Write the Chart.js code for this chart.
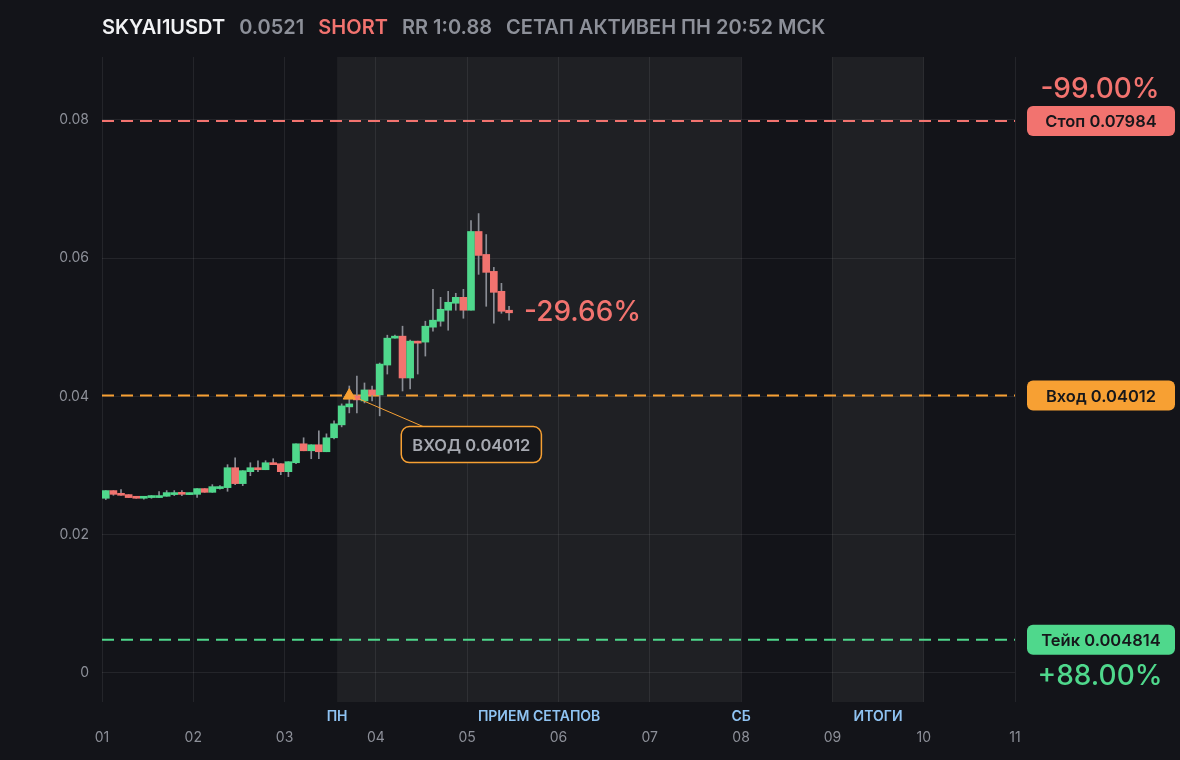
<!DOCTYPE html>
<html>
<head>
<meta charset="utf-8">
<script src="https://cdn.jsdelivr.net/npm/chart.js@4.4.1/dist/chart.umd.min.js"></script>
<style>
  html, body { margin: 0; padding: 0; background: #131419; }
  #wrap { position: relative; width: 1180px; height: 760px; overflow: hidden; }
  #title { position: absolute; left: 102px; top: 15px; font-family: Inter, "Noto Sans", sans-serif; font-size: 20px; font-weight: 600; white-space: nowrap; letter-spacing: 0px; }
  #title span { margin-right: 9px; }
  canvas { position: absolute; left: 0; top: 0; }
</style>
</head>
<body>
<div id="wrap">
  <canvas id="c" width="1180" height="760"></canvas>
  <div id="title"><span style="color:#f1f2f4">SKYAI1USDT</span> <span style="color:#8d9099">0.0521</span> <span style="color:#f2736f">SHORT</span> <span style="color:#8d9099">RR 1:0.88</span> <span style="color:#8d9099">СЕТАП АКТИВЕН ПН 20:52 МСК</span></div>
</div>
<script>
// ---------- data ----------
const startDay = 1;            // first tick "01"
const candlesPerDay = 12;      // 2h candles
const opens  = [0.02527,0.02638,0.02595,0.02580,0.02551,0.02527,0.02537,0.02537,0.02556,0.02580,0.02609,0.02580,
                0.02584,0.02667,0.02613,0.02667,0.02681,0.02969,0.02739,0.02912,0.02969,0.02940,0.03041,0.03027,
                0.02912,0.03041,0.03315,0.03214,0.03301,0.03200,0.03402,0.03589,0.03849,0.04007,0.03935,0.04094,
                0.04022,0.04454,0.04843,0.04872,0.04267,0.04800,0.04786,0.05002,0.05088,0.05247,0.05348,0.05434,
                0.05247,0.06386,0.06054,0.05809,0.05521,0.05247];
const highs  = [0.02638,0.02638,0.02652,0.02580,0.02551,0.02551,0.02566,0.02623,0.02638,0.02638,0.02638,0.02605,
                0.02667,0.02667,0.02724,0.02710,0.03013,0.03113,0.02926,0.03041,0.03070,0.03070,0.03099,0.03027,
                0.03056,0.03315,0.03402,0.03301,0.03503,0.03459,0.03647,0.03892,0.04151,0.04295,0.04195,0.04151,
                0.04483,0.04886,0.04886,0.05016,0.04814,0.04800,0.05088,0.05549,0.05434,0.05520,0.05492,0.05549,
                0.06544,0.06645,0.06342,0.05867,0.05636,0.05304];
const lows   = [0.02508,0.02570,0.02570,0.02537,0.02527,0.02513,0.02527,0.02537,0.02556,0.02566,0.02566,0.02580,
                0.02541,0.02613,0.02613,0.02657,0.02628,0.02724,0.02710,0.02854,0.02912,0.02940,0.03013,0.02868,
                0.02840,0.03027,0.03214,0.03099,0.03099,0.03200,0.03387,0.03560,0.03762,0.03762,0.03906,0.03935,
                0.03719,0.04324,0.04843,0.04079,0.04108,0.04324,0.04584,0.04944,0.05016,0.04958,0.05247,0.05131,
                0.05247,0.05766,0.05304,0.05059,0.05203,0.05102];
const closes = [0.02638,0.02584,0.02570,0.02537,0.02527,0.02551,0.02566,0.02566,0.02609,0.02609,0.02584,0.02605,
                0.02667,0.02613,0.02695,0.02695,0.02969,0.02739,0.02926,0.02969,0.02940,0.03041,0.03013,0.02912,
                0.03056,0.03315,0.03214,0.03301,0.03200,0.03402,0.03604,0.03863,0.03892,0.03950,0.04094,0.04022,
                0.04468,0.04843,0.04872,0.04267,0.04800,0.04771,0.05016,0.05103,0.05261,0.05362,0.05434,0.05247,
                0.06386,0.06040,0.05795,0.05506,0.05232,0.05210];

const stopPrice = 0.07984, entryPrice = 0.04012, takePrice = 0.004814;
const entryCandle = 33;              // candle (1-based) where the setup was entered
const stopPct = "-99.00%", takePct = "+88.00%", currentPct = "-29.66%";
const stopLabel = "Стоп 0.07984", entryLabel = "Вход 0.04012", takeLabel = "Тейк 0.004814";
const entryCallout = "ВХОД 0.04012";

const xTickLabels = ["01","02","03","04","05","06","07","08","09","10","11"];
const yTickValues = [0, 0.02, 0.04, 0.06, 0.08];
const yTickLabels = ["0","0.02","0.04","0.06","0.08"];
const sessionZones = [[3.575, 8.0], [9.0, 10.0]];     // shaded periods (day units)
const sessionLabels = [["ПН", 3.575], ["ПРИЕМ СЕТАПОВ", 5.7875], ["СБ", 8.0], ["ИТОГИ", 9.5]];

// ---------- colours ----------
const GREEN = '#4fd88c', RED = '#f2736f', ORANGE = '#f7a033', WICK = '#8a8d95';
const GRID = 'rgba(255,255,255,0.075)';
const FONT = 'Inter, "Noto Sans", sans-serif';

const candleX = i => startDay + (i + 0.5) / candlesPerDay;
const bodies = opens.map((o, i) => ({ x: candleX(i), y: [Math.min(o, closes[i]), Math.max(o, closes[i])] }));
const wicks  = opens.map((o, i) => ({ x: candleX(i), y: [lows[i], highs[i]] }));
const bodyColors = opens.map((o, i) => closes[i] >= o ? GREEN : RED);
const xMin = 1, xMax = 11;

const bgPlugin = {
  id: 'bg',
  beforeDraw(chart) {
    const { ctx, chartArea: a, scales: { x } } = chart;
    ctx.save();
    ctx.fillStyle = '#131419';
    ctx.fillRect(0, 0, chart.width, chart.height);
    ctx.fillStyle = '#1f2024';
    sessionZones.forEach(([s, e]) => {
      const x0 = x.getPixelForValue(s), x1 = x.getPixelForValue(e);
      ctx.fillRect(x0, a.top, x1 - x0, a.bottom - a.top);
    });
    ctx.restore();
  },
  afterDraw(chart) {
    const { ctx, chartArea: a, scales: { x, y } } = chart;
    ctx.save();
    // session labels
    ctx.font = `600 14px ${FONT}`;
    ctx.fillStyle = '#8fc3f2';
    ctx.textAlign = 'center';
    ctx.textBaseline = 'middle';
    sessionLabels.forEach(([t, d]) => ctx.fillText(t, x.getPixelForValue(d), a.bottom + 15));

    // right price labels
    const boxL = a.right + 12, boxW = 148, boxH = 30;
    const box = (price, color, label) => {
      const cy = y.getPixelForValue(price);
      ctx.fillStyle = color;
      ctx.beginPath();
      ctx.roundRect(boxL, cy - boxH / 2, boxW, boxH, 6);
      ctx.fill();
      ctx.fillStyle = '#16171b';
      ctx.font = `600 16.5px ${FONT}`;
      ctx.textAlign = 'center';
      ctx.textBaseline = 'middle';
      ctx.fillText(label, boxL + boxW / 2, cy + 1);
      return cy;
    };
    const sy = box(stopPrice, RED, stopLabel);
    box(entryPrice, ORANGE, entryLabel);
    const ty = box(takePrice, GREEN, takeLabel);
    ctx.font = `500 28px ${FONT}`;
    ctx.fillStyle = RED;
    ctx.fillText(stopPct, boxL + boxW / 2 - 1, sy - 31);
    ctx.fillStyle = GREEN;
    ctx.fillText(takePct, boxL + boxW / 2 - 1, ty + 37);

    // current move label
    const last = closes.length - 1;
    ctx.fillStyle = RED;
    ctx.textAlign = 'left';
    ctx.fillText(currentPct, x.getPixelForValue(candleX(last)) + 15, y.getPixelForValue(closes[last]));

    // entry callout
    const px = x.getPixelForValue(candleX(entryCandle - 1));
    const py = y.getPixelForValue(entryPrice);
    ctx.font = `600 16.5px ${FONT}`;
    const tw = ctx.measureText(entryCallout).width;
    const bx = px + 52, by = py + 31, bw = tw + 22, bh = 36;
    ctx.strokeStyle = ORANGE;
    ctx.lineWidth = 1;
    ctx.beginPath();
    ctx.moveTo(px + 9, py + 3);
    ctx.lineTo(bx + 22, by);
    ctx.stroke();
    ctx.fillStyle = '#15161a';
    ctx.lineWidth = 1.5;
    ctx.beginPath();
    ctx.roundRect(bx, by, bw, bh, 8);
    ctx.fill();
    ctx.stroke();
    ctx.fillStyle = '#a6a9b1';
    ctx.textAlign = 'center';
    ctx.fillText(entryCallout, bx + bw / 2, by + bh / 2 + 1);
    ctx.restore();
  }
};

const hline = (price, color) => ({
  type: 'line',
  data: [{ x: xMin, y: price }, { x: xMax, y: price }],
  borderColor: color, borderWidth: 2, borderDash: [12, 7],
  pointRadius: 0, order: 5, clip: false
});

new Chart(document.getElementById('c'), {
  type: 'bar',
  data: {
    datasets: [
      { data: bodies, backgroundColor: bodyColors, barThickness: 7, minBarLength: 2, grouped: false, order: 1 },
      { data: wicks, backgroundColor: WICK, barThickness: 1, grouped: false, order: 3 },
      hline(stopPrice, RED),
      hline(entryPrice, ORANGE),
      hline(takePrice, GREEN),
      { type: 'line', data: [{ x: candleX(entryCandle - 1), y: entryPrice }], showLine: false,
        pointStyle: 'triangle', pointRadius: 7, pointBackgroundColor: ORANGE, pointBorderColor: ORANGE,
        pointBorderWidth: 1, order: 0 }
    ]
  },
  options: {
    responsive: false,
    animation: false,
    devicePixelRatio: 1,
    layout: { padding: { top: 57, right: 165, left: 0, bottom: 0 } },
    plugins: { legend: { display: false }, tooltip: { enabled: false } },
    scales: {
      x: {
        type: 'linear', min: xMin, max: xMax, offset: false,
        grid: { color: GRID, drawTicks: false, offset: false },
        border: { display: false },
        afterBuildTicks: s => { s.ticks = xTickLabels.map((t, i) => ({ value: xMin + i })); },
        ticks: { color: '#8d9099', font: { family: FONT, size: 14 }, padding: 27, maxRotation: 0, autoSkip: false,
                 callback: (v, i) => xTickLabels[i] },
        afterFit: s => { s.height = 58; }
      },
      y: {
        type: 'linear', min: -0.0042, max: 0.0891,
        grid: { color: GRID, drawTicks: false },
        border: { display: false },
        afterBuildTicks: s => { s.ticks = yTickValues.map(v => ({ value: v })); },
        ticks: { color: '#8d9099', font: { family: FONT, size: 14 }, padding: 13,
                 callback: (v, i) => yTickLabels[i] },
        afterFit: s => { s.width = 102; }
      }
    }
  },
  plugins: [bgPlugin]
});
</script>
</body>
</html>
